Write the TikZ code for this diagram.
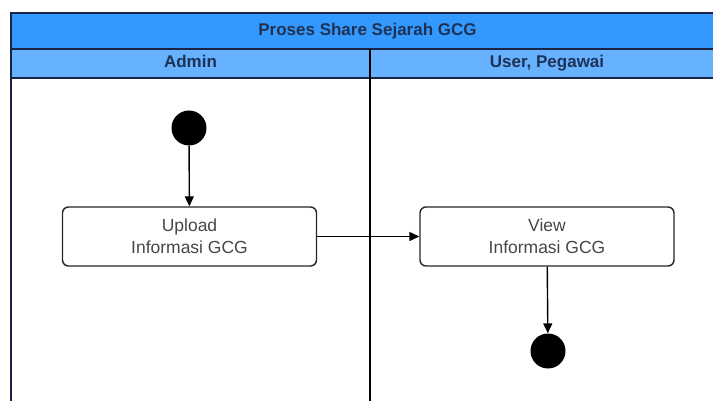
\documentclass[tikz,border=0pt]{standalone}
\usepackage{fontspec}
\setmainfont{Liberation Sans}
\usetikzlibrary{arrows.meta}

\definecolor{titelblau}{RGB}{51,153,255}
\definecolor{kopfblau}{RGB}{102,178,255}
\definecolor{rahmen}{RGB}{25,35,70}
\definecolor{kopftext}{RGB}{30,50,85}
\definecolor{boxtext}{RGB}{70,70,70}

\begin{document}
\begin{tikzpicture}[x=1pt,y=-1pt,every node/.style={align=center},
    kopf/.style={text=kopftext,font=\bfseries\fontsize{17}{20}\selectfont,
        text height=12.5pt,text depth=3.5pt},
    aktion/.style={draw=black!85,rounded corners=6pt,line width=1.4pt,minimum width=254pt,
        minimum height=59pt,text=boxtext,font=\fontsize{17.5}{22}\selectfont},
    punkt/.style={circle,fill=black,minimum size=35pt,inner sep=0pt},
    pfeil/.style={-{Triangle[length=10pt,width=9pt]},line width=1.4pt}]

    \useasboundingbox (0,0) rectangle (713,401);

    % Schwimmbahnen
    \fill[titelblau] (11,13) rectangle (724,49);
    \fill[kopfblau] (11,49) rectangle (724,78);
    \draw[rahmen,line width=1.6pt] (11,410) -- (11,13) -- (724,13);
    \draw[rahmen,line width=1.6pt] (11,49) -- (724,49);
    \draw[rahmen,line width=1.6pt] (11,78) -- (724,78);
    \draw[line width=1.3pt] (370,49) -- (370,410);

    % Kopfzeilen
    \node[kopf] (titel) at (367.5,31) {Proses Share Sejarah GCG};
    \node[kopf] (admin) at (190.5,63.5) {Admin};
    \node[kopf] (user) at (547,63.5) {User, Pegawai};

    % Aktivitaeten
    \node[punkt] (start) at (189,128) {};
    \node[aktion] (upload) at (189.5,236.5) {Upload\\Informasi GCG};
    \node[aktion] (view) at (547,236.5) {View\\Informasi GCG};
    \node[punkt] (ende) at (548,351) {};

    % Pfeile
    \draw[pfeil] (start) -- (upload);
    \draw[pfeil] (upload) -- (view);
    \draw[pfeil] (view) -- (ende);

\end{tikzpicture}
\end{document}
